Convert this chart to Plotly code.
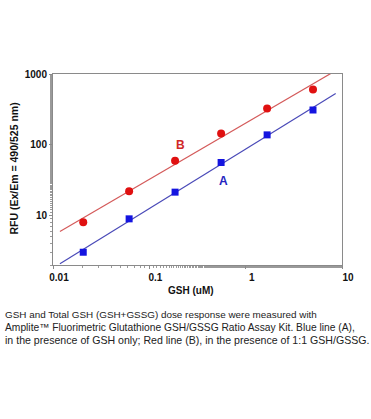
import numpy as np
import plotly.graph_objects as go

# ---- data ----
gsh_conc = [0.0206, 0.0617, 0.185, 0.556, 1.67, 5.0]          # GSH (uM)
rfu_A = [3.03, 8.98, 21.4, 56.2, 138, 310]                     # blue, GSH only
rfu_B = [8.07, 22.1, 59.4, 144.5, 326, 605]                    # red, 1:1 GSH/GSSG
fit_x_range = [0.0118, 8.6]                                    # extent of fitted lines
x_tickvals = [0.01, 0.1, 1, 10]
x_ticktext = ["0.01", "0.1", "1", "10"]
y_tickvals = [10, 100, 1000]
y_ticktext = ["10", "100", "1000"]
caption_lines = [
    "GSH and Total GSH (GSH+GSSG) dose response were measured with",
    "Amplite\u2122 Fluorimetric Glutathione GSH/GSSG Ratio Assay Kit. Blue line (A),",
    "in the presence of GSH only; Red line (B), in the presence of 1:1 GSH/GSSG.",
]
caption_sizes = [9.9, 10.25, 10.6]

FONT = "Liberation Sans, Arial, sans-serif"
BLUE_PT, RED_PT = "#1414e0", "#e01010"
BLUE_LN, RED_LN = "#4a4ab8", "#d45a5a"


def power_fit(x, y, xr):
    lx, ly = np.log10(x), np.log10(y)
    k, b = np.polyfit(lx, ly, 1)
    fx = np.logspace(np.log10(xr[0]), np.log10(xr[1]), 60)
    return fx, 10 ** (k * np.log10(fx) + b)


fig = go.Figure()
for yv, lc in [(rfu_B, RED_LN), (rfu_A, BLUE_LN)]:
    fx, fy = power_fit(gsh_conc, yv, fit_x_range)
    fig.add_trace(go.Scatter(x=fx, y=fy, mode="lines",
                             line=dict(color=lc, width=1.2), hoverinfo="skip"))

fig.add_trace(go.Scatter(x=gsh_conc, y=rfu_B, mode="markers",
                         marker=dict(symbol="circle", size=8, color=RED_PT)))
fig.add_trace(go.Scatter(x=gsh_conc, y=rfu_A, mode="markers",
                         marker=dict(symbol="square", size=7, color=BLUE_PT)))

axis_common = dict(
    showline=True, linecolor="#8a8a8a", linewidth=1, mirror=True,
    showgrid=False, zeroline=False, ticks="outside", ticklen=3,
    tickcolor="#8a8a8a", tickwidth=1,
    tickfont=dict(family=FONT, size=10, color="#111", weight="bold"),
    minor=dict(ticks="outside", ticklen=2, tickcolor="#9a9a9a", tickwidth=1,
               showgrid=False),
)

fig.update_xaxes(type="log", range=[-2, 1], tickvals=x_tickvals,
                 ticktext=x_ticktext, ticklabelshift=6, **axis_common)
fig.update_yaxes(type="log", range=[np.log10(2), 3], tickvals=y_tickvals,
                 ticktext=y_ticktext, **axis_common)

ann = [
    dict(text="B", x=np.log10(0.2085), y=np.log10(100), xref="x", yref="y",
         showarrow=False, font=dict(family=FONT, size=12, color="#d02828", weight="bold")),
    dict(text="A", x=np.log10(0.586), y=np.log10(30.3), xref="x", yref="y",
         showarrow=False, font=dict(family=FONT, size=12, color="#2424c0", weight="bold")),
    dict(text="GSH (uM)", x=0.476, y=-0.1346, xref="paper", yref="paper",
         xanchor="center", yanchor="middle", showarrow=False,
         font=dict(family=FONT, size=10, color="#111", weight="bold")),
    dict(text="RFU (Ex/Em = 490/525 nm)", x=-0.135, y=0.505, xref="paper", yref="paper",
         xanchor="center", yanchor="middle", textangle=-90, showarrow=False,
         font=dict(family=FONT, size=10.5, color="#111", weight="bold")),
]
# caption line centres (page px 314, 327, 340) -> paper coords
for i, line in enumerate(caption_lines):
    ann.append(dict(text=line, x=-0.173, y=(265 - (314 + 13 * i)) / 191,
                    xref="paper", yref="paper", xanchor="left", yanchor="middle",
                    showarrow=False,
                    font=dict(family=FONT, size=caption_sizes[i], color="#222")))

fig.update_layout(
    width=371, height=419,
    margin=dict(l=53, r=29, t=74, b=154),
    paper_bgcolor="white", plot_bgcolor="white",
    showlegend=False, annotations=ann,
)

fig.write_html("out.html", config={"displayModeBar": False},
               post_script="document.body.style.margin='0';document.body.style.padding='0';")
